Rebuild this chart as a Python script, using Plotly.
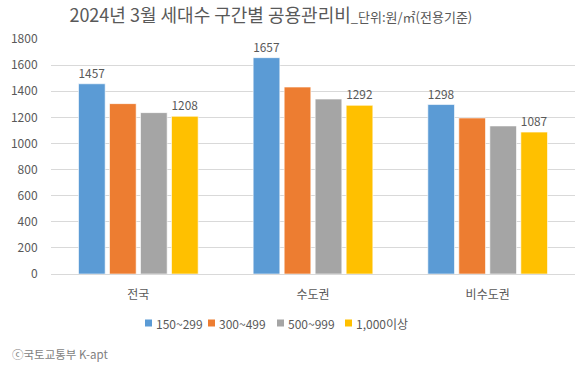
import plotly.graph_objects as go

categories = ["전국", "수도권", "비수도권"]
series_names = ["150~299", "300~499", "500~999", "1,000이상"]
v_150_299 = [1457, 1657, 1298]
v_300_499 = [1305, 1432, 1195]
v_500_999 = [1236, 1340, 1134]
v_1000 = [1208, 1292, 1087]
yticks = [0, 200, 400, 600, 800, 1000, 1200, 1400, 1600, 1800]

colors = ["#5b9bd5", "#ed7d31", "#a5a5a5", "#ffc000"]
values = [v_150_299, v_300_499, v_500_999, v_1000]
show_label = [True, False, False, True]

FONT = "Noto Sans CJK KR, Malgun Gothic, sans-serif"
GRAY = "#595959"

W, H = 575, 371
ML, MR, MT, MB = 51, 0, 39, 97
PW, PH = W - ML - MR, H - MT - MB


def px_x(x):
    return (x - ML) / PW


def px_y(y):
    return (H - MB - y) / PH


fig = go.Figure()
for name, vals, col, lab in zip(series_names, values, colors, show_label):
    fig.add_trace(go.Bar(
        x=categories, y=vals, name=name,
        marker=dict(color=col, line=dict(color="rgba(255,255,255,0.6)", width=1)),
        text=[str(v) for v in vals] if lab else None,
        textposition="outside", cliponaxis=False,
        textfont=dict(size=12, color=GRAY, family=FONT),
        showlegend=False,
    ))

# custom legend (small squares close to text, like the reference)
legend_sq_x = [145, 208, 277, 345]
shapes = []
annotations = []
for name, col, sx in zip(series_names, colors, legend_sq_x):
    shapes.append(dict(type="rect", xref="paper", yref="paper",
                       x0=px_x(sx), x1=px_x(sx + 7), y0=px_y(326.5), y1=px_y(319.5),
                       fillcolor=col, line=dict(width=0)))
    annotations.append(dict(text=name, xref="paper", yref="paper",
                            x=px_x(sx + 9), y=px_y(323), xanchor="left", yanchor="middle",
                            showarrow=False, font=dict(size=12, color=GRAY, family=FONT)))

annotations.append(dict(text="ⓒ국토교통부 K-apt", xref="paper", yref="paper",
                        x=px_x(10), y=px_y(354), xanchor="left", yanchor="middle",
                        showarrow=False, font=dict(size=11.5, color="#7f7f7f", family=FONT)))

fig.update_layout(
    width=W, height=H,
    margin=dict(l=ML, r=MR, t=MT, b=MB),
    paper_bgcolor="white", plot_bgcolor="white",
    barmode="group", bargap=0.29, bargroupgap=0.14,
    font=dict(family=FONT, size=12, color=GRAY),
    title=dict(
        text="2024년 3월 세대수 구간별 공용관리비<span style='font-size:13px'>_단위:원/㎡(전용기준)</span>",
        x=0.471, xanchor="center", y=0.975, yanchor="top",
        font=dict(size=18, color=GRAY, family=FONT),
    ),
    showlegend=False,
    xaxis=dict(showgrid=False, showline=True, linecolor="#d9d9d9", ticks="",
               tickfont=dict(size=12, color=GRAY), ticklabelstandoff=10, automargin=False),
    yaxis=dict(range=[0, 1800], tickvals=yticks, showgrid=True, gridcolor="#d9d9d9",
               zeroline=False, showline=False, ticks="outside", ticklen=10,
               tickcolor="rgba(0,0,0,0)", tickfont=dict(size=12, color=GRAY), automargin=False),
    shapes=shapes,
    annotations=annotations,
)

fig.write_html("out.html", config={"displayModeBar": False},
               post_script="document.body.style.margin='0';")
